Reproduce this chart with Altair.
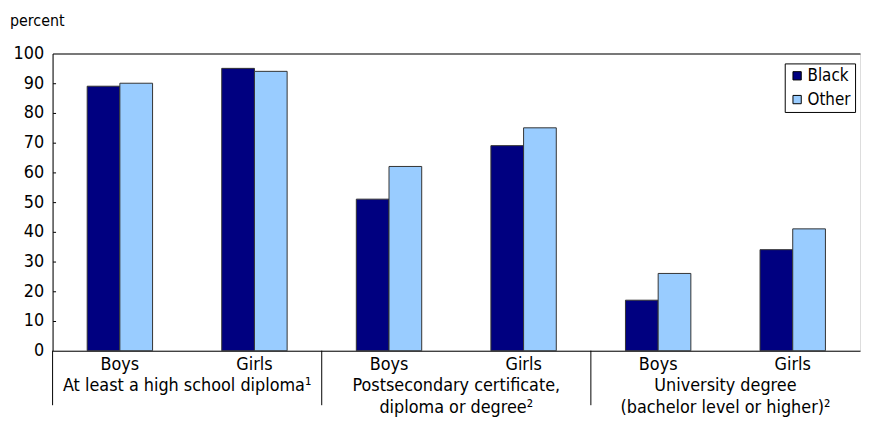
import altair as alt
import pandas as pd

groups = ["A", "A", "B", "B", "C", "C"]
sexes = ["Boys", "Girls", "Boys", "Girls", "Boys", "Girls"]
black = [89, 95, 51, 69, 17, 34]
other = [90, 94, 62, 75, 26, 41]
series = ["Black", "Other"]
group_labels = [
    "At least a high school diploma¹",
    "Postsecondary certificate,\ndiploma or degree²",
    "University degree\n(bachelor level or higher)²",
]
y_ticks = [0, 10, 20, 30, 40, 50, 60, 70, 80, 90, 100]

FONT = "DejaVu Sans Condensed, Liberation Sans, sans-serif"
FS = 18
W, H = 815, 300

keys = [f"{g}|{s}" for g, s in zip(groups, sexes)]
rows = []
for k, b, o in zip(keys, black, other):
    rows.append({"cat": k, "series": "Black", "value": b})
    rows.append({"cat": k, "series": "Other", "value": o})
df = pd.DataFrame(rows)

xscale = alt.Scale(domain=keys, paddingInner=0, paddingOuter=0)
yscale = alt.Scale(domain=[0, 100])

xaxis = alt.Axis(title=None, labelExpr="split(datum.value,'|')[1]", labelAngle=0,
                 ticks=False, domainColor="black", labelFontSize=FS,
                 labelFont=FONT, labelColor="black", labelPadding=5)
yaxis = alt.Axis(title=None, values=y_ticks, ticks=False, grid=False,
                 domainColor="black", labelFontSize=FS, labelFont=FONT,
                 labelColor="black", labelPadding=9, labelOverlap=False,
                 labelFlush=False)

bars = alt.Chart(df).mark_bar(stroke="#333333", strokeWidth=1).encode(
    x=alt.X("cat:N", scale=xscale, sort=keys, axis=xaxis),
    xOffset=alt.XOffset("series:N",
                        scale=alt.Scale(domain=["_a", "Black", "Other", "_b"],
                                        paddingInner=0, paddingOuter=0.058)),
    y=alt.Y("value:Q", scale=yscale, axis=yaxis),
    color=alt.Color("series:N", sort=series,
                    scale=alt.Scale(domain=series, range=["#000080", "#99CCFF"]),
                    legend=alt.Legend(title=None, orient="none", legendX=739, legendY=10,
                                      strokeColor="black", padding=4, labelFont=FONT,
                                      labelFontSize=17, labelColor="black", symbolType="square",
                                      symbolSize=70, symbolStrokeColor="black",
                                      symbolStrokeWidth=1, rowPadding=6, labelOffset=2)),
)

# top frame line: a top x axis showing only its domain line
topax = alt.Chart(pd.DataFrame({"cat": keys})).mark_point(opacity=0).encode(
    x=alt.X("cat:N", scale=xscale, sort=keys,
            axis=alt.Axis(orient="top", labels=False, ticks=False, domain=True,
                          domainColor="black", title=None, grid=False)))

# inward tick marks on the y axis
ticks_df = pd.DataFrame({"value": y_ticks})
tickax = alt.Chart(ticks_df).mark_point(opacity=0).encode(
    y=alt.Y("value:Q", scale=yscale,
            axis=alt.Axis(orient="left", offset=-3, values=y_ticks[1:-1], labels=False,
                          domain=False, ticks=True, tickSize=3, tickColor="black",
                          tickWidth=1, title=None, grid=False)))

sep_df = pd.DataFrame({"cat": [keys[0], keys[2], keys[4]]})
seps = alt.Chart(sep_df).mark_rule(color="black", strokeWidth=1).encode(
    x=alt.X("cat:N", scale=xscale, sort=keys, bandPosition=0, axis=None),
    y=alt.value(H), y2=alt.value(H + 55))

glab_df = pd.DataFrame({"cat": [keys[0], keys[2], keys[4]], "label": group_labels})
glabs = alt.Chart(glab_df).mark_text(font=FONT, fontSize=FS, color="black", baseline="top",
                                     lineBreak="\n", lineHeight=22, align="center").encode(
    x=alt.X("cat:N", scale=xscale, sort=keys, bandPosition=1, axis=None),
    y=alt.value(H + 27), text="label:N")

title_df = pd.DataFrame({"t": ["percent"]})
ptitle = alt.Chart(title_df).mark_text(font=FONT, fontSize=16, color="black", align="left",
                                       baseline="middle").encode(
    x=alt.value(-43), y=alt.value(-33), text="t:N")

chart = alt.layer(bars, topax, tickax, seps, glabs, ptitle).resolve_axis(
    x="independent", y="independent"
).properties(
    width=W, height=H,
    autosize=alt.AutoSizeParams(type="none"),
    padding={"left": 45, "top": 44, "right": 2, "bottom": 70},
).configure_view(stroke=None).configure(background="white")

chart.save("out.html", embed_options={"renderer": "svg", "actions": False})
